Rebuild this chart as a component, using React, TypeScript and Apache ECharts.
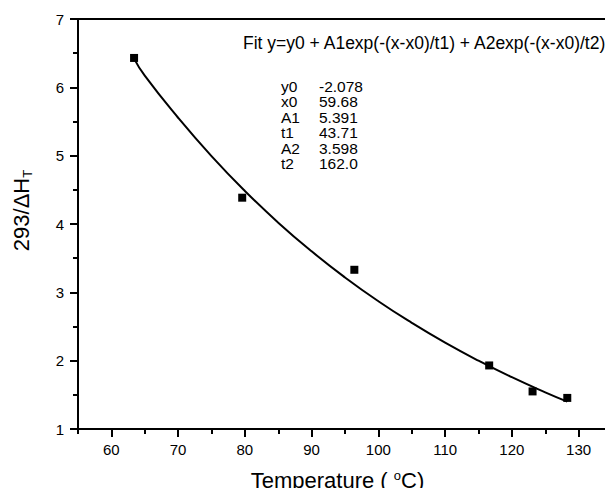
import React, { useEffect, useRef } from "react";
import * as echarts from "echarts";

const pointX = [63.4, 79.6, 96.4, 116.6, 123.1, 128.3];
const pointY = [6.43, 4.385, 3.33, 1.93, 1.55, 1.455];

const fitX = [63.4, 65, 70, 75, 80, 85, 90, 95, 100, 105, 110, 115, 120, 125, 128.3];
const fitY = [6.42, 6.17, 5.555, 4.993, 4.483, 4.02, 3.6, 3.218, 2.87, 2.554, 2.264, 2.0, 1.758, 1.536, 1.40];

const xMajorTicks = [60, 70, 80, 90, 100, 110, 120, 130];
const xMinorTicks = [55, 65, 75, 85, 95, 105, 115, 125, 135];

const fitTitle = "Fit y=y0 + A1exp(-(x-x0)/t1) + A2exp(-(x-x0)/t2):";
const paramNames = ["y0", "x0", "A1", "t1", "A2", "t2"];
const paramValues = ["-2.078", "59.68", "5.391", "43.71", "3.598", "162.0"];

const FONT = "'Liberation Sans', Arial, sans-serif";

export default function App() {
  const ref = useRef<HTMLDivElement>(null);
  useEffect(() => {
    if (!ref.current) return;
    const chart = echarts.init(ref.current, null, { renderer: "svg" });
    const lh = 15.5;
    const pf = 15.5;
    const graphics: any[] = [
      {
        type: "text",
        x: 243,
        y: 43,
        style: { text: fitTitle, fill: "#000", font: `17.5px ${FONT}`, verticalAlign: "middle" },
      },
      {
        type: "text",
        x: 281,
        y: 86 - lh / 2,
        style: {
          text: paramNames.join("\n"),
          fill: "#000",
          font: `${pf}px ${FONT}`,
          lineHeight: lh,
          verticalAlign: "top",
        },
      },
      {
        type: "text",
        x: 319,
        y: 86 - lh / 2,
        style: {
          text: paramValues.join("\n"),
          fill: "#000",
          font: `${pf}px ${FONT}`,
          lineHeight: lh,
          verticalAlign: "top",
        },
      },
    ];
    const axisBase = {
      type: "value",
      min: 55,
      max: 135,
      interval: 5,
    };
    chart.setOption({
      animation: false,
      backgroundColor: "#fff",
      grid: {
        left: 78,
        top: 19,
        right: 1,
        bottom: 64,
        show: true,
        borderColor: "#000",
        borderWidth: 2,
        backgroundColor: "transparent",
      },
      xAxis: [
        {
          ...axisBase,
          axisLine: { show: true, lineStyle: { color: "#000", width: 2 } },
          axisTick: {
            show: true,
            inside: false,
            length: 8,
            customValues: xMajorTicks,
            lineStyle: { color: "#000", width: 2 },
          },
          splitLine: { show: false },
          axisLabel: {
            color: "#000",
            fontSize: 15,
            fontFamily: FONT,
            margin: 13,
            customValues: xMajorTicks,
          },
          name: "Temperature ( {sup|o}C)",
          nameLocation: "middle",
          nameGap: 40,
          nameTextStyle: {
            color: "#000",
            fontSize: 22,
            fontFamily: FONT,
            padding: [0, 15, 0, 0],
            rich: {
              sup: { fontSize: 13, fontFamily: FONT, color: "#000", verticalAlign: "top", lineHeight: 13, padding: [0, 0, 4, 0] },
            },
          },
        },
        {
          ...axisBase,
          position: "bottom",
          axisLine: { show: false },
          axisTick: {
            show: true,
            inside: false,
            length: 5,
            customValues: xMinorTicks,
            lineStyle: { color: "#000", width: 2 },
          },
          axisLabel: { show: false },
          splitLine: { show: false },
        },
      ],
      yAxis: {
        type: "value",
        min: 1,
        max: 7,
        interval: 1,
        axisLine: { show: true, lineStyle: { color: "#000", width: 2 } },
        axisTick: { show: true, inside: false, length: 8, lineStyle: { color: "#000", width: 2 } },
        minorTick: { show: true, splitNumber: 2, length: 5, lineStyle: { color: "#000", width: 2 } },
        splitLine: { show: false },
        axisLabel: { color: "#000", fontSize: 15, fontFamily: FONT, margin: 14 },
        name: "293/ΔH{sub|T}",
        nameLocation: "middle",
        nameRotate: 90,
        nameGap: 44,
        nameTextStyle: {
          color: "#000",
          fontSize: 22,
          fontFamily: FONT,
          padding: [0, 0, 0, 27],
          rich: {
            sub: { fontSize: 13, fontFamily: FONT, color: "#000", padding: [12, 0, 0, 0] },
          },
        },
      },
      series: [
        {
          type: "line",
          data: fitX.map((x, i) => [x, fitY[i]]),
          smooth: true,
          showSymbol: false,
          lineStyle: { color: "#000", width: 2 },
          z: 2,
        },
        {
          type: "scatter",
          data: pointX.map((x, i) => [x, pointY[i]]),
          symbol: "rect",
          symbolSize: 8,
          itemStyle: { color: "#000", opacity: 1 },
          z: 3,
        },
      ],
      graphic: graphics,
    });
    return () => chart.dispose();
  }, []);
  return <div ref={ref} style={{ width: 613, height: 496, margin: -8 }} />;
}
